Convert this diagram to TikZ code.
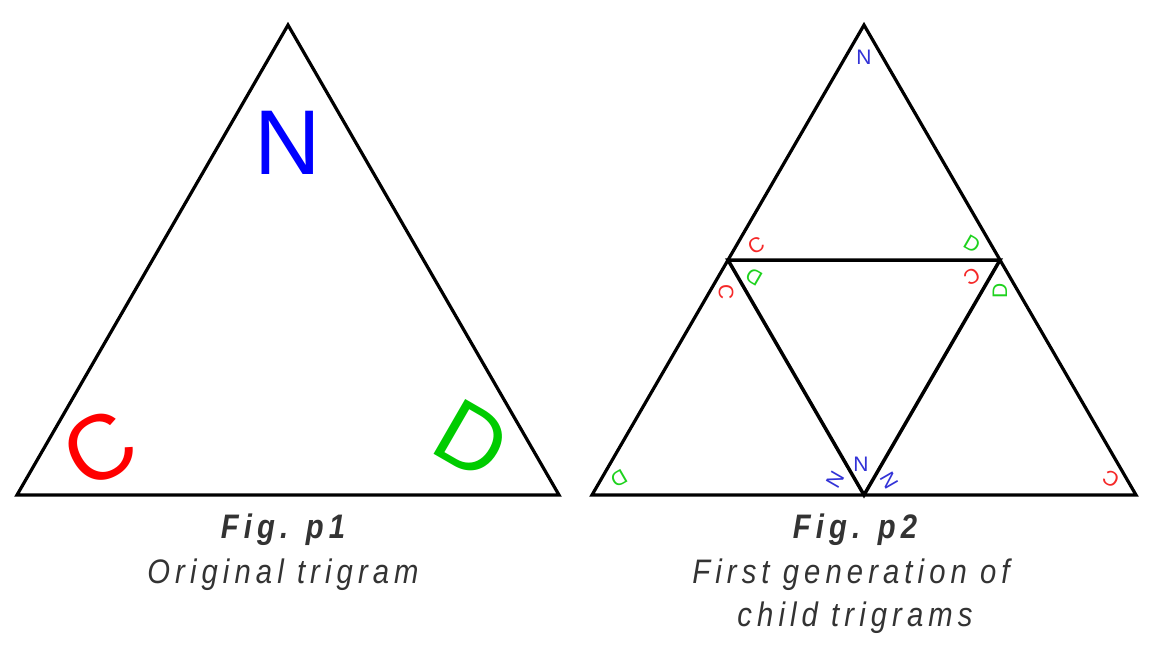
\documentclass[tikz,border=0pt]{standalone}
\usepackage{fontspec}
\setmainfont{Liberation Sans}
\newfontfamily\capfont[LetterSpace=15, FakeStretch=0.86]{Liberation Sans}
\definecolor{capgray}{RGB}{51,51,51}
\definecolor{bigred}{RGB}{255,0,0}
\definecolor{bigblue}{RGB}{0,0,255}
\definecolor{biggreen}{RGB}{0,204,0}
\definecolor{smred}{RGB}{245,40,40}
\definecolor{smblue}{RGB}{50,50,215}
\definecolor{smgreen}{RGB}{30,210,30}
\tikzset{
  tri/.style={line width=3.2pt, line join=miter, draw=black},
  inner/.style={line width=3.5pt, line join=miter, draw=black},
  bigletter/.style={inner sep=0pt, font=\fontsize{92}{92}\selectfont},
  smletter/.style={inner sep=0pt, font=\fontsize{21}{21}\selectfont},
  capline/.style={anchor=base, text=capgray, font=\capfont\fontsize{34}{38}\selectfont\itshape},
  capbold/.style={anchor=base, text=capgray, font=\capfont\fontsize{34}{38}\selectfont\bfseries\itshape}
}
\begin{document}
\begin{tikzpicture}[x=1pt, y=-1pt]
\useasboundingbox[fill=white] (0,0) rectangle (1169,671);
% left triangle
\coordinate (LA) at (288,25);
\coordinate (LB) at (17,495);
\coordinate (LC) at (559,495);
\draw[tri] (LA) -- (LB) -- (LC) -- cycle;
\node[bigletter, text=bigblue] (bigN) at (288,143) {N};
\node[bigletter, text=bigred, rotate=30] (bigC) at (99,448) {C};
\node[bigletter, text=biggreen, rotate=-30] (bigD) at (472,440) {D};
% right triangle
\coordinate (RA) at (864,25);
\coordinate (RB) at (592,495);
\coordinate (RC) at (1136,495);
\coordinate (MAB) at (728,260);
\coordinate (MAC) at (1000,260);
\coordinate (MBC) at (864,495);
\draw[tri] (RA) -- (RB) -- (RC) -- cycle;
\draw[inner] (MAB) -- (MAC) -- (MBC) -- cycle;
% top child
\node[smletter, text=smblue] (tN) at (864,57) {N};
\node[smletter, text=smred, rotate=30] (tC) at (756,245) {C};
\node[smletter, text=smgreen, rotate=-30] (tD) at (972,244) {D};
% middle child
\node[smletter, text=smgreen, rotate=150] (mD) at (754,277) {D};
\node[smletter, text=smred, rotate=210] (mC) at (972,277) {C};
\node[smletter, text=smblue] (mN) at (861,464) {N};
% left child
\node[smletter, text=smred, rotate=-90] (lC) at (726,292) {C};
\node[smletter, text=smgreen, rotate=-150] (lD) at (619,479) {D};
\node[smletter, text=smblue, rotate=-120] (lN) at (835,480) {N};
% right child
\node[smletter, text=smgreen, rotate=90] (rD) at (1000,291) {D};
\node[smletter, text=smblue, rotate=120] (rN) at (889,481) {N};
\node[smletter, text=smred, rotate=150] (rC) at (1111,479) {C};
% captions
\node[capbold] (fig1) at (283,538) {Fig. p1};
\node[capline] (cap1) at (283,583) {Original trigram};
\node[capbold] (fig2) at (855,538) {Fig. p2};
\node[capline] (cap2a) at (851,583) {First generation of};
\node[capline] (cap2b) at (855,626) {child trigrams};
\end{tikzpicture}
\end{document}
